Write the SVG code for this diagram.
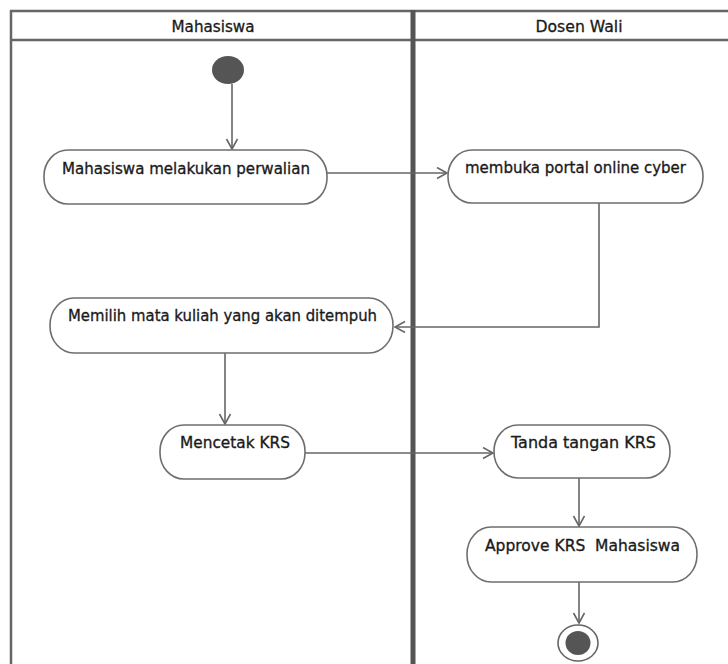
<svg xmlns="http://www.w3.org/2000/svg" width="728" height="664" viewBox="0 0 728 664">
<defs>
<style>
.lane{stroke:#666;stroke-width:2.5;fill:none}
.div{stroke:#555;stroke-width:5;fill:none}
.node{fill:#fff;stroke:#6e6e6e;stroke-width:1.6}
.lbl{font-family:"DejaVu Sans","Verdana",sans-serif;font-size:16.5px;fill:#1a1a1a;stroke:#1a1a1a;stroke-width:0.35}
.hdr{font-family:"DejaVu Sans","Verdana",sans-serif;font-size:15px;fill:#1a1a1a;stroke:#1a1a1a;stroke-width:0.3;text-anchor:middle}
.edge{stroke:#666;stroke-width:1.6;fill:none}
</style>
<marker id="arr" markerWidth="14" markerHeight="14" refX="11" refY="6" orient="auto" markerUnits="userSpaceOnUse">
<path d="M1,0.5 L11,6 L1,11.5" fill="none" stroke="#666" stroke-width="1.6"/>
</marker>
</defs>
<rect width="728" height="664" fill="#fff"/>
<g id="swimlanes">
<line class="lane" x1="10" y1="11" x2="728" y2="11"/>
<line class="lane" x1="10" y1="40" x2="728" y2="40"/>
<line class="lane" x1="11" y1="10" x2="11" y2="664"/>
<line class="div" x1="413" y1="10" x2="413" y2="664"/>
<text class="hdr" x="213" y="32" textLength="83" lengthAdjust="spacingAndGlyphs">Mahasiswa</text>
<text class="hdr" x="579" y="32" textLength="87" lengthAdjust="spacingAndGlyphs">Dosen Wali</text>
</g>
<g id="connectors">
<line class="edge" x1="232" y1="84" x2="232" y2="149" marker-end="url(#arr)"/>
<line class="edge" x1="327" y1="173" x2="447" y2="173" marker-end="url(#arr)"/>
<polyline class="edge" points="599,203 599,327 395,327" marker-end="url(#arr)"/>
<line class="edge" x1="225" y1="353" x2="225" y2="424" marker-end="url(#arr)"/>
<line class="edge" x1="305" y1="453" x2="493" y2="453" marker-end="url(#arr)"/>
<line class="edge" x1="579" y1="478" x2="579" y2="526" marker-end="url(#arr)"/>
<line class="edge" x1="579" y1="582" x2="579" y2="623" marker-end="url(#arr)"/>
</g>
<g id="start">
<ellipse cx="228" cy="70" rx="16" ry="14" fill="#555"/>
</g>
<g id="n1">
<rect class="node" x="44" y="150" width="283" height="54" rx="24" ry="26"/>
<text class="lbl" x="62" y="174" textLength="248" lengthAdjust="spacingAndGlyphs">Mahasiswa melakukan perwalian</text>
</g>
<g id="n2">
<rect class="node" x="448" y="150" width="255" height="53" rx="24" ry="26"/>
<text class="lbl" x="465" y="173" textLength="221" lengthAdjust="spacingAndGlyphs">membuka portal online cyber</text>
</g>
<g id="n3">
<rect class="node" x="50" y="298" width="343" height="55" rx="24" ry="27"/>
<text class="lbl" x="68" y="321" textLength="309" lengthAdjust="spacingAndGlyphs">Memilih mata kuliah yang akan ditempuh</text>
</g>
<g id="n4">
<rect class="node" x="160" y="425" width="145" height="54" rx="24" ry="26"/>
<text class="lbl" x="180" y="448" textLength="110" lengthAdjust="spacingAndGlyphs">Mencetak KRS</text>
</g>
<g id="n5">
<rect class="node" x="494" y="425" width="176" height="53" rx="24" ry="26"/>
<text class="lbl" x="511" y="448" textLength="145" lengthAdjust="spacingAndGlyphs">Tanda tangan KRS</text>
</g>
<g id="n6">
<rect class="node" x="467" y="527" width="230" height="55" rx="24" ry="27"/>
<text class="lbl" x="485" y="551" textLength="195" lengthAdjust="spacingAndGlyphs" xml:space="preserve">Approve KRS  Mahasiswa</text>
</g>
<g id="end">
<ellipse cx="578" cy="643" rx="20" ry="18" fill="#fff" stroke="#666" stroke-width="1.6"/>
<ellipse cx="578" cy="643" rx="12.5" ry="12" fill="#555"/>
</g>
</svg>
